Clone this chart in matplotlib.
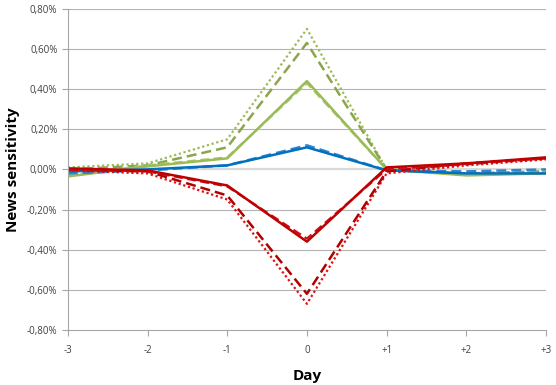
import numpy as np
import matplotlib
matplotlib.use("Agg")
from matplotlib import pyplot as plt
from matplotlib.ticker import FuncFormatter

days = ["-3", "-2", "-1", "0", "+1", "+2", "+3"]

# values in percent
green_solid = [-0.035, 0.015, 0.055, 0.44, 0.0, -0.03, -0.02]
green_solid2 = [-0.03, 0.02, 0.06, 0.43, 0.0, -0.025, -0.02]
green_dash = [0.0, 0.02, 0.11, 0.63, 0.0, -0.02, -0.01]
green_dot = [0.01, 0.03, 0.15, 0.70, 0.0, -0.02, -0.01]
blue_solid = [-0.01, 0.0, 0.02, 0.11, -0.005, -0.02, -0.02]
blue_dash = [-0.02, -0.005, 0.02, 0.12, -0.005, -0.01, 0.0]
red_solid = [0.005, -0.005, -0.08, -0.36, 0.01, 0.03, 0.06]
red_solid2 = [0.0, -0.01, -0.085, -0.345, 0.0, 0.025, 0.055]
red_dash = [0.0, -0.01, -0.13, -0.62, -0.01, 0.03, 0.055]
red_dot = [-0.005, -0.02, -0.15, -0.67, -0.02, 0.02, 0.05]

plt.rcParams['font.family'] = ['Open Sans', 'DejaVu Sans']

fig = plt.figure(figsize=(5.56, 3.85), dpi=100)
ax = fig.add_axes([0.122, 0.143, 0.86, 0.834])

x = np.arange(len(days))

ax.plot(x, green_dot, color="#9BBB59", lw=1.6, ls=(0, (1, 1.2)))
ax.plot(x, green_dash, color="#8AA64C", lw=1.8, ls=(0, (4, 2)))
ax.plot(x, green_solid2, color="#A8C86A", lw=1.6, ls=(0, (4, 2)))
ax.plot(x, green_solid, color="#9BBB59", lw=1.8)
ax.plot(x, blue_dash, color="#2E86D0", lw=1.8, ls=(0, (4, 2)))
ax.plot(x, blue_solid, color="#0070C0", lw=1.8)
ax.plot(x, red_dot, color="#E01010", lw=1.6, ls=(0, (1, 1.2)))
ax.plot(x, red_dash, color="#B00000", lw=1.8, ls=(0, (4, 2)))
ax.plot(x, red_solid2, color="#C8101A", lw=1.6, ls=(0, (4, 2)))
ax.plot(x, red_solid, color="#C00000", lw=1.8)

ax.set_xlim(0, 6)
ax.set_ylim(-0.8, 0.8)
ax.set_xticks(x)
ax.set_xticklabels(days)
ax.set_yticks(np.arange(-0.8, 0.81, 0.2))
ax.yaxis.set_major_formatter(FuncFormatter(lambda v, p: ("%.2f%%" % v).replace(".", ",").replace("-0,00", "0,00")))

for yv in np.arange(-0.6, 0.81, 0.2):
    if abs(yv) < 1e-9:
        ax.axhline(0, color="#D9D9D9", lw=1.6, zorder=0)
    else:
        ax.axhline(yv, color="#B3B3B3", lw=0.8, zorder=0)

for s in ["top", "right"]:
    ax.spines[s].set_visible(False)
ax.spines["left"].set_color("#A6A6A6")
ax.spines["bottom"].set_color("#A6A6A6")
ax.tick_params(axis="both", colors="#A6A6A6", labelcolor="#404040", labelsize=7, length=4)
ax.tick_params(axis="x", pad=7)

ax.set_xlabel("Day", fontsize=11, fontweight="bold", labelpad=9)
ax.set_ylabel("News sensitivity", fontsize=11, fontweight="bold", labelpad=5)

fig.savefig("out.png", dpi=100)
